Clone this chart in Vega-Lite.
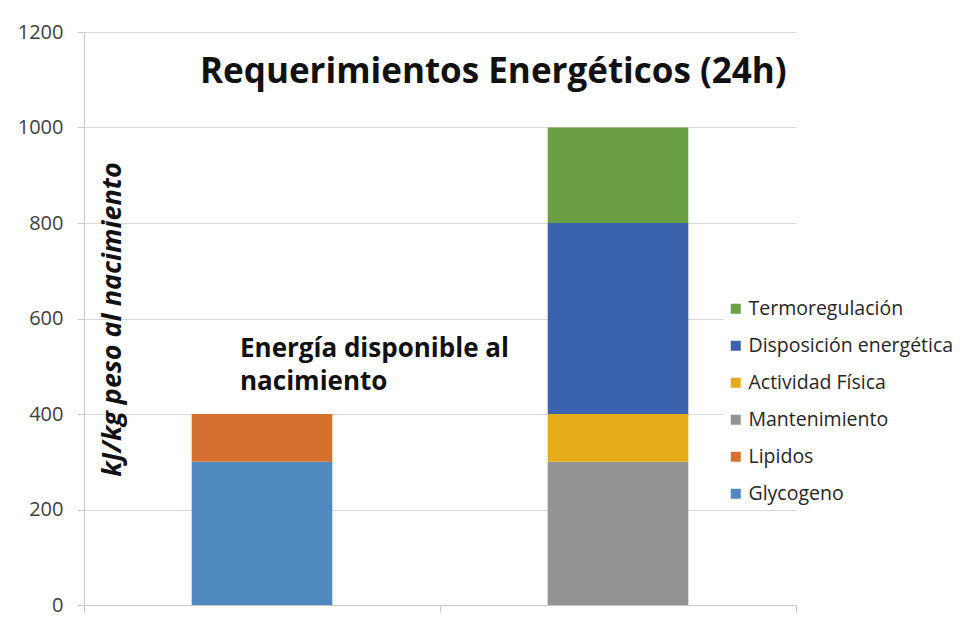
{
  "$schema": "https://vega.github.io/schema/vega-lite/v6.json",
  "autosize": "none",
  "width": 712,
  "height": 573,
  "padding": {"left": 84, "top": 32, "right": 167, "bottom": 13},
  "background": "white",
  "config": {
    "font": "Open Sans",
    "view": {"stroke": null}
  },
  "title": {
    "text": "Requerimientos Energéticos (24h)",
    "font": "Open Sans",
    "fontWeight": "bold",
    "fontSize": 35,
    "color": "#111111",
    "anchor": "start",
    "frame": "group",
    "dx": 116,
    "dy": 68,
    "offset": 0
  },
  "layer": [
    {
      "data": {
        "values": [
          {"grupo": "Disponible", "componente": "Glycogeno", "valor": 300, "orden": 1},
          {"grupo": "Disponible", "componente": "Lipidos", "valor": 100, "orden": 2},
          {"grupo": "Requerido", "componente": "Mantenimiento", "valor": 300, "orden": 1},
          {"grupo": "Requerido", "componente": "Actividad Física", "valor": 100, "orden": 2},
          {"grupo": "Requerido", "componente": "Disposición energética", "valor": 400, "orden": 3},
          {"grupo": "Requerido", "componente": "Termoregulación", "valor": 200, "orden": 4}
        ]
      },
      "mark": {"type": "bar", "width": {"band": 0.395}},
      "encoding": {
        "x": {
          "field": "grupo",
          "type": "nominal",
          "scale": {"paddingInner": 0, "paddingOuter": 0},
          "axis": {
            "title": null,
            "labels": false,
            "bandPosition": 1,
            "tickExtra": true,
            "domainColor": "#c8c8c8",
            "tickColor": "#c8c8c8",
            "tickSize": 7,
            "grid": false
          }
        },
        "y": {
          "field": "valor",
          "type": "quantitative",
          "stack": "zero",
          "scale": {"domain": [0, 1200], "nice": false},
          "axis": {
            "values": [0, 200, 400, 600, 800, 1000, 1200],
            "format": "d",
            "title": "kJ/kg peso al nacimiento",
            "titleFont": "Open Sans",
            "titleFontStyle": "italic",
            "titleFontWeight": "bold",
            "titleFontSize": 27,
            "titleColor": "#111111",
            "titleAngle": -90,
            "titleAlign": "center",
            "titleBaseline": "middle",
            "titleX": 28,
            "titleY": 287,
            "labelFontSize": 20,
            "labelColor": "#404040",
            "labelPadding": 14,
            "tickSize": 7,
            "tickColor": "#c8c8c8",
            "domainColor": "#c8c8c8",
            "gridColor": "#d9d9d9",
            "grid": true
          }
        },
        "color": {
          "field": "componente",
          "type": "nominal",
          "scale": {
            "domain": ["Termoregulación", "Disposición energética", "Actividad Física", "Mantenimiento", "Lipidos", "Glycogeno"],
            "range": ["#6a9f45", "#3b62ad", "#e5ab18", "#939393", "#d6702f", "#4f89c0"]
          },
          "legend": {
            "title": null,
            "orient": "none",
            "legendX": 640,
            "legendY": 265,
            "symbolType": "square",
            "symbolSize": 100,
            "symbolStrokeWidth": 0,
            "labelFontSize": 19.5,
            "labelLimit": 400,
            "labelColor": "#262626",
            "labelOffset": 3,
            "rowPadding": 16,
            "fillColor": "white",
            "padding": 2
          }
        },
        "order": {"field": "orden", "type": "quantitative"}
      }
    },
    {
      "data": {"values": [{"nota": "Energía disponible al nacimiento"}]},
      "mark": {
        "type": "text",
        "text": ["Energía disponible al", "nacimiento"],
        "align": "left",
        "baseline": "alphabetic",
        "dx": -22,
        "fontSize": 26,
        "fontWeight": "bold",
        "lineHeight": 33,
        "color": "#111111"
      },
      "encoding": {
        "x": {"datum": "Disponible"},
        "y": {"datum": 519}
      }
    }
  ]
}
